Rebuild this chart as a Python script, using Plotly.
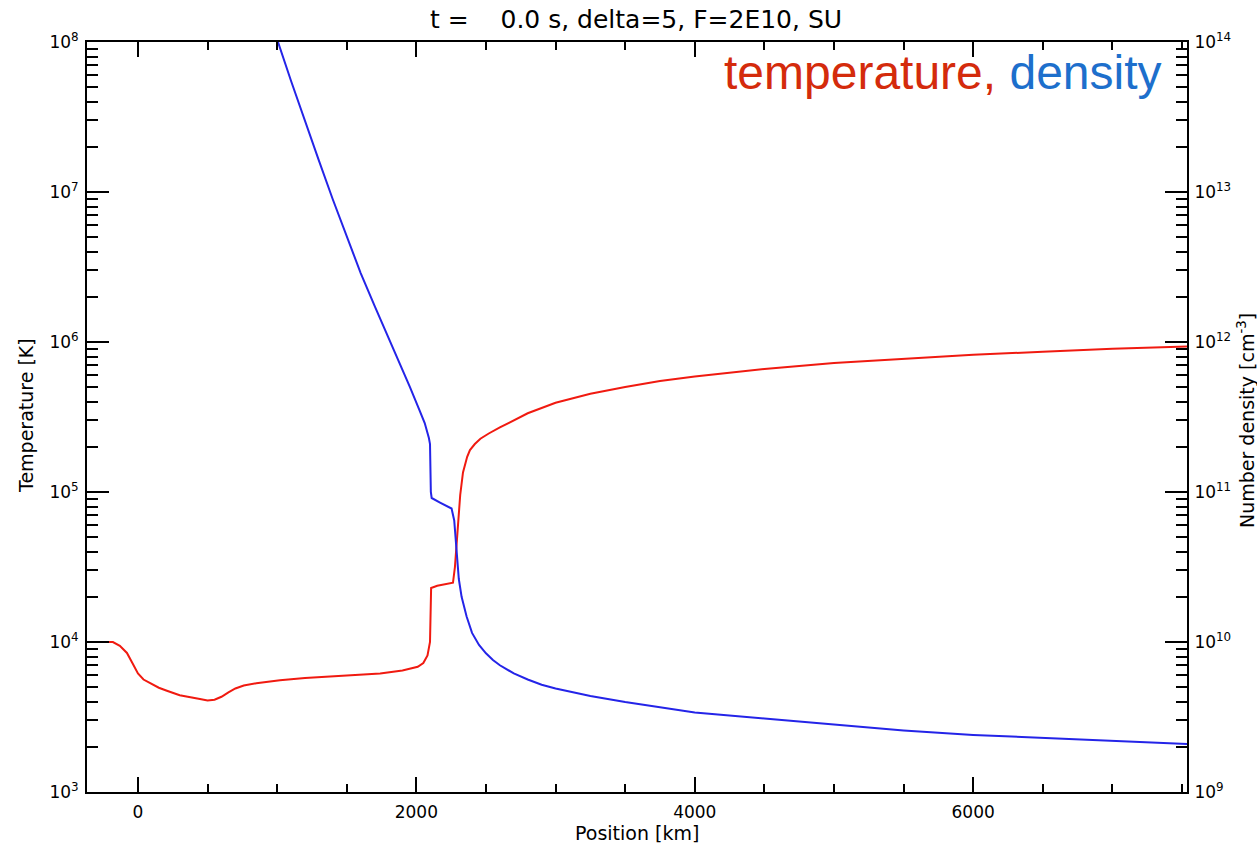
import plotly.graph_objects as go

# ---- data ----
temp_km = [-370, -180, -130, -79, -40, 0, 40, 86, 150, 208, 300, 445, 500, 550, 600, 650,
           700, 760, 850, 1020, 1200, 1380, 1560, 1740, 1900, 1954, 2010, 2050, 2080, 2098,
           2103, 2106, 2150, 2200, 2263, 2277, 2288, 2299, 2315, 2335, 2350, 2365, 2385,
           2420, 2460, 2520, 2600, 2800, 3000, 3250, 3500, 3750, 4000, 4500, 5000, 5500,
           6000, 6500, 7000, 7536]
temp_K = [10000, 10000, 9440, 8450, 7240, 6170, 5620, 5310, 4955, 4730, 4415, 4170, 4075, 4120,
          4315, 4620, 4900, 5130, 5310, 5560, 5760, 5890, 6030, 6170, 6455, 6610, 6840, 7240,
          8130, 10000, 19950, 22900, 23700, 24270, 24830, 31600, 44700, 64600, 95500, 134900,
          154900, 171800, 190500, 208900, 226500, 245500, 269200, 335000, 393600, 451900,
          501200, 549500, 588800, 660700, 724400, 776200, 822200, 861000, 901600, 933300]

dens_km = [970, 1006, 1100, 1200, 1300, 1400, 1500, 1600, 1700, 1800, 1900, 1954, 2020, 2060,
           2090, 2098, 2104, 2110, 2170, 2253, 2272, 2289, 2305, 2325, 2361, 2400, 2450, 2500,
           2550, 2600, 2700, 2800, 2900, 3000, 3250, 3500, 4000, 4500, 5000, 5500, 6000, 6500,
           7000, 7536]
dens_cm3 = [1.35e14, 1.0e14, 5.50e13, 2.95e13, 1.62e13, 8.91e12, 5.01e12, 2.88e12, 1.74e12,
            1.07e12, 6.61e11, 5.01e11, 3.55e11, 2.88e11, 2.29e11, 2.09e11, 1.0e11, 9.12e10,
            8.51e10, 7.76e10, 6.46e10, 3.89e10, 2.63e10, 2.0e10, 1.48e10, 1.15e10, 9.55e9,
            8.41e9, 7.59e9, 7.00e9, 6.17e9, 5.62e9, 5.19e9, 4.90e9, 4.37e9, 3.98e9, 3.39e9,
            3.09e9, 2.82e9, 2.57e9, 2.40e9, 2.29e9, 2.19e9, 2.09e9]

x_ticks = [0, 2000, 4000, 6000]
x_minor = [500, 1000, 1500, 2500, 3000, 3500, 4500, 5000, 5500, 6500, 7000, 7500]
t_major = [1e3, 1e4, 1e5, 1e6, 1e7, 1e8]
t_labels = ["10<sup>3</sup>", "10<sup>4</sup>", "10<sup>5</sup>", "10<sup>6</sup>",
            "10<sup>7</sup>", "10<sup>8</sup>"]
n_major = [1e9, 1e10, 1e11, 1e12, 1e13, 1e14]
n_labels = ["10<sup>9</sup>", "10<sup>10</sup>", "10<sup>11</sup>", "10<sup>12</sup>",
            "10<sup>13</sup>", "10<sup>14</sup>"]
t_minor = [m * 10 ** e for e in range(3, 8) for m in range(2, 10)]
n_minor = [m * 10 ** e for e in range(9, 14) for m in range(2, 10)]

FONT = "DejaVu Sans"

fig = go.Figure()
fig.add_trace(go.Scatter(x=temp_km, y=temp_K, mode="lines",
                         line=dict(color="#f01a10", width=2), yaxis="y", showlegend=False))
fig.add_trace(go.Scatter(x=dens_km, y=dens_cm3, mode="lines",
                         line=dict(color="#2424e8", width=2), yaxis="y2", showlegend=False))

axis_common = dict(showgrid=False, zeroline=False, showline=True, linecolor="black",
                   linewidth=2, ticks="inside", tickcolor="black", tickwidth=2,
                   tickfont=dict(family=FONT, size=17, color="black"))

fig.update_layout(
    width=1257, height=846,
    margin=dict(l=87, r=70, t=42, b=54),
    paper_bgcolor="white", plot_bgcolor="white",
    title=dict(text="t =\u00a0\u00a0\u00a0 0.0 s, delta=5, F=2E10, SU",
               font=dict(family=FONT, size=25, color="black"),
               x=0.506, xanchor="center", yref="container", y=1 - 19 / 846, yanchor="middle"),
    xaxis=dict(range=[-366, 7536], tickmode="array", tickvals=x_ticks,
               ticktext=[str(v) for v in x_ticks], ticklen=15, mirror="ticks",
               ticklabelstandoff=4,
               minor=dict(tickmode="array", tickvals=x_minor, ticks="inside", ticklen=8,
                          tickcolor="black", tickwidth=2),
               **axis_common),
    yaxis=dict(type="log", range=[3, 8], tickmode="array", tickvals=t_major, ticktext=t_labels,
               ticklen=22, ticklabelstandoff=3,
               minor=dict(tickmode="array", tickvals=t_minor, ticks="inside", ticklen=11,
                          tickcolor="black", tickwidth=2),
               **axis_common),
    yaxis2=dict(type="log", range=[9, 14], overlaying="y", side="right", anchor="x",
                tickmode="array", tickvals=n_major, ticktext=n_labels, ticklen=22,
                ticklabelstandoff=2,
                minor=dict(tickmode="array", tickvals=n_minor, ticks="inside", ticklen=11,
                           tickcolor="black", tickwidth=2),
                **axis_common),
    annotations=[
        dict(text='<span style="color:#d42b0c">temperature, </span>'
                  '<span style="color:#1d6fcc">density</span>',
             xref="paper", yref="paper", x=0.979, y=0.96, xanchor="right", yanchor="middle",
             showarrow=False, font=dict(family="Liberation Sans", size=48)),
        dict(text="Position [km]", xref="paper", yref="paper", x=0.5, y=-41 / 750,
             xanchor="center", yanchor="middle", showarrow=False,
             font=dict(family=FONT, size=19, color="black")),
        dict(text="Temperature [K]", xref="paper", yref="paper", x=-61 / 1100,
             y=(792 - 416) / 750, xanchor="center", yanchor="middle", textangle=-90,
             showarrow=False, font=dict(family=FONT, size=19, color="black")),
        dict(text="Number density [cm<sup>-3</sup>]", xref="paper", yref="paper",
             x=1 + 59 / 1100, y=(792 - 421) / 750, xanchor="center", yanchor="middle",
             textangle=-90, showarrow=False,
             font=dict(family=FONT, size=19, color="black")),
    ],
)

fig.write_html("out.html")
